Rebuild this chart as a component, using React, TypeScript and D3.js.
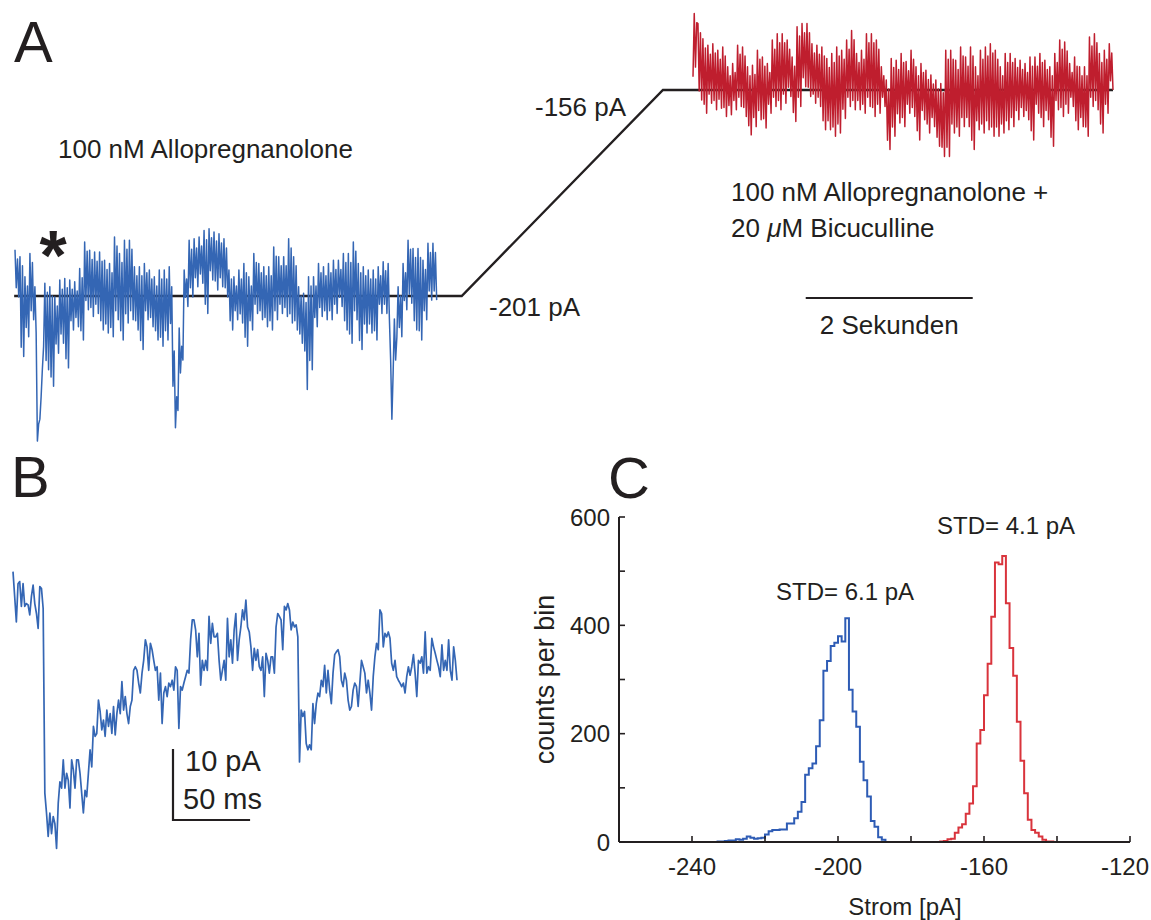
import React from "react";
import * as d3 from "d3";

// ---------- Panel A: current traces (deviation from holding current, pA) ----------
const blueHolding = -201;
const redHolding = -156;
const blueTraceDelta = [
  10.1, 1.8, 8.1, -0.2, 8.6, -11.2, 6.6, -13.2, 4.2, -6.9, 2.2, -8.9, 9.3, -3.2, 7.3, -5.2,
  2.0, -8.0, -31.7, -28.0, -26.9, -22.0, -16.0, -11.0, 2.8, -14.1, 0.8, -16.1, 2.0, -17.7, 0.0, -19.7,
  -0.2, -10.5, -2.2, -12.5, 3.5, -8.3, 1.5, -10.3, 3.8, -13.7, 1.8, -15.7, 3.5, -5.4, 1.5, -7.4,
  3.1, -4.7, 1.1, -6.7, 6.0, -7.6, 4.0, -9.6, 11.8, -1.0, 9.8, -3.0, 10.0, -2.5, 8.0, -4.5,
  9.6, -1.8, 7.6, -3.8, 9.6, -5.4, 7.6, -7.4, 7.8, -6.1, 5.8, -8.1, 7.1, -6.9, 5.1, -8.9,
  12.9, -3.2, 10.9, -5.2, 9.3, -7.6, 7.3, -9.6, 12.2, -3.9, 10.2, -5.9, 12.2, -3.2, 10.2, -5.2,
  6.4, -5.4, 4.4, -7.4, 6.4, -9.7, 4.4, -11.7, 7.1, -3.2, 5.1, -5.2, 5.7, -4.7, 3.7, -6.7,
  4.2, -7.6, 2.2, -9.6, 5.7, -9.0, 3.7, -11.0, 5.7, -7.6, 3.7, -9.6, 6.4, -6.0, 2.0, -19.7,
  -12.0, -28.8, -22.0, -25.0, -7.0, -16.8, -11.0, -14.0, 5.7, -0.3, 3.7, -2.3, 12.2, 1.8, 10.2, -0.2,
  12.5, 4.0, 10.5, 2.0, 12.9, 4.8, 10.9, 2.8, 14.3, -1.8, 12.3, -3.8, 14.7, 5.5, 12.7, 3.5,
  14.0, 3.3, 12.0, 1.3, 13.6, 4.0, 11.6, 2.0, 12.5, 1.8, 10.5, -0.2, 5.7, -5.4, 3.7, -7.4,
  4.2, -3.2, 2.2, -5.2, 5.7, -3.9, 3.7, -5.9, 7.1, -9.0, 5.1, -11.0, 4.2, -5.4, 2.2, -7.4,
  9.3, -1.8, 7.3, -3.8, 7.1, -3.2, 5.1, -5.2, 6.4, -4.7, 4.4, -6.7, 6.4, -5.4, 4.4, -7.4,
  10.7, -3.2, 8.7, -5.2, 8.6, -1.8, 6.6, -3.8, 8.6, -2.5, 6.6, -4.5, 12.5, -3.9, 10.5, -5.9,
  8.6, -5.4, 6.6, -7.4, 2.0, -8.3, 0.0, -10.3, 0.6, -12.0, -1.4, -20.4, 4.2, -14.1, 2.2, -16.1,
  4.2, -4.7, 2.2, -6.7, 7.1, -2.5, 5.1, -4.5, 6.4, -3.2, 4.4, -5.2, 7.1, -3.2, 5.1, -5.2,
  7.8, -1.8, 5.8, -3.8, 7.8, -0.3, 5.8, -2.3, 9.3, -5.4, 7.3, -7.4, 9.3, -8.3, 7.3, -10.3,
  11.8, -3.2, 9.8, -5.2, 7.1, -9.7, 5.1, -11.7, 6.4, -6.1, 4.4, -8.1, 5.7, -6.1, 3.7, -8.1,
  5.7, -7.6, 3.7, -9.6, 6.4, -1.8, 4.4, -3.8, 7.5, -1.8, 5.5, -3.8, 7.1, -5.0, -14.0, -26.9,
  -16.8, -5.0, -14.0, -9.0, 2.0, -6.9, 0.0, -8.9, 7.1, -1.0, 5.1, -3.0, 12.2, 0.4, 10.2, -1.6,
  10.4, -5.4, 8.4, -7.4, 10.4, -7.6, 8.4, -9.6, 7.8, -3.2, 5.8, -5.2, 11.5, 1.1, 9.5, -0.9,
  11.5, 1.1, 9.5, -0.9,
];
const redTraceDelta = [
  2.9, 16.7, 5.0, 14.7, 14.5, -0.2, 12.5, -2.2, 11.2, -3.1, 9.2, -5.1, 9.8, -0.9, 7.8, -2.9,
  10.1, -2.3, 8.1, -4.3, 8.7, -2.0, 6.7, -4.0, 9.4, -3.8, 7.4, -5.8, 5.1, -3.4, 3.1, -5.4,
  5.8, -2.3, 3.8, -4.3, 9.8, -1.6, 7.8, -3.6, 9.4, -3.8, 7.4, -5.8, 5.1, -7.8, 3.1, -9.8,
  5.4, -6.0, 3.4, -8.0, 8.7, -4.5, 6.7, -6.5, 7.2, -6.3, 5.2, -8.3, 5.8, -3.1, 3.8, -5.1,
  10.9, -1.6, 8.9, -3.6, 12.3, -2.3, 10.3, -4.3, 12.3, -0.9, 10.3, -2.9, 10.9, 0.6, 8.9, -1.4,
  7.2, -4.9, 5.2, -6.9, 13.8, -1.6, 11.8, -3.6, 14.5, 2.7, 12.5, 0.7, 14.5, 0.6, 12.5, -1.4,
  10.1, -0.9, 8.1, -2.9, 9.8, -1.6, 7.8, -3.6, 9.4, -6.7, 7.4, -8.7, 6.9, -6.7, 4.9, -8.7,
  8.0, -8.1, 6.0, -10.1, 9.4, -7.4, 7.4, -9.4, 8.7, -4.2, 6.7, -6.2, 10.9, -1.6, 8.9, -3.6,
  13.0, -2.3, 11.0, -4.3, 8.0, -2.3, 6.0, -4.3, 8.7, -3.1, 6.7, -5.1, 12.3, -1.6, 10.3, -3.6,
  12.3, -3.8, 10.3, -5.8, 10.9, -3.1, 8.9, -5.1, 5.1, -1.6, 3.1, -3.6, 2.2, -11.0, 0.2, -13.0,
  6.9, -8.1, 4.9, -10.1, 6.5, -5.2, 4.5, -7.2, 8.0, -6.0, 6.0, -8.0, 6.2, -3.1, 4.2, -5.1,
  8.7, -3.8, 6.7, -5.8, 5.1, -8.9, 3.1, -10.9, 5.8, -4.5, 3.8, -6.5, 4.3, -7.4, 2.3, -9.4,
  3.3, -6.0, 1.3, -8.0, 2.2, -10.3, 0.2, -12.3, 1.4, -12.5, -0.6, -14.5, 8.7, -12.5, 6.7, -14.5,
  8.7, -7.4, 6.7, -9.4, 6.5, -8.1, 4.5, -10.1, 9.4, -6.0, 7.4, -8.0, 7.2, -6.0, 5.2, -8.0,
  9.4, -11.0, 7.4, -13.0, 5.1, -6.7, 3.1, -8.7, 8.7, -7.4, 6.7, -9.4, 9.4, -6.7, 7.4, -8.7,
  10.1, -8.1, 8.1, -10.1, 8.7, -8.1, 6.7, -10.1, 5.1, -7.4, 3.1, -9.4, 8.0, -6.7, 6.0, -8.7,
  8.0, -6.0, 6.0, -8.0, 6.9, -4.5, 4.9, -6.5, 6.5, -3.8, 4.5, -5.8, 5.8, -4.5, 3.8, -6.5,
  7.2, -8.9, 5.2, -10.9, 7.2, -3.1, 5.2, -5.1, 8.0, -6.0, 6.0, -8.0, 6.5, -4.5, 4.5, -6.5,
  5.1, -10.3, 3.1, -12.3, 8.0, -2.3, 6.0, -4.3, 10.9, -3.8, 8.9, -5.8, 10.5, -3.1, 8.5, -5.1,
  5.8, -1.6, 3.8, -3.6, 7.2, -6.7, 5.2, -8.7, 5.1, -6.0, 3.1, -8.0, 5.1, -8.1, 3.1, -10.1,
  11.6, -1.6, 9.6, -3.6, 12.3, -2.3, 10.3, -4.3, 8.0, -7.4, 6.0, -9.4, 8.7, -3.1, 6.7, -5.1,
  10.1, 2.0, 8.1, 0.0,
];
// timeline of panel A (seconds, schematic)
const blueStart = 0, blueEnd = 5.05;
const holdBlueEnd = 5.35;
const holdRedStart = 7.76;
const redStart = 8.12, redEnd = 13.15;
const scaleBarStart = 9.47, scaleBarSeconds = 2;

// ---------- Panel B: single event trace (pA, relative) ----------
const bTrace = [
  4.0, 0.5, -3.1, 2.3, 2.6, -0.9, 2.3, -0.9, -0.5, -0.7, -2.1, 0.5, 2.1, -0.5, -1.9, -4.0,
  1.9, 1.6, -1.2, -27.2, -30.0, -33.3, -30.0, -32.9, -30.5, -31.5, -35.0, -28.6, -25.6, -26.5, -22.5, -26.5,
  -24.4, -25.4, -29.3, -22.5, -23.9, -26.5, -22.5, -22.5, -24.4, -27.2, -30.0, -26.8, -27.7, -24.4, -21.1, -23.5,
  -17.8, -19.2, -18.8, -14.1, -15.7, -18.3, -16.9, -19.2, -15.5, -17.8, -16.0, -18.8, -15.0, -19.0, -16.0, -14.1,
  -16.0, -11.5, -15.5, -13.6, -16.0, -17.4, -15.0, -14.1, -9.9, -9.4, -9.9, -11.7, -13.1, -10.3, -8.5, -5.6,
  -6.6, -9.9, -6.1, -7.0, -8.5, -9.9, -9.4, -14.1, -10.3, -17.4, -13.1, -12.2, -13.6, -11.7, -12.2, -11.3,
  -12.7, -9.4, -9.9, -18.1, -12.2, -12.7, -11.7, -10.8, -9.9, -10.3, -5.6, -2.8, -2.8, -4.2, -8.0, -4.7,
  -12.0, -8.5, -9.9, -8.5, -9.9, -2.3, -6.1, -3.3, -5.2, -5.2, -4.7, -8.5, -11.3, -9.9, -8.5, -11.3,
  -2.6, -8.0, -5.6, -8.9, -4.2, -1.9, -8.5, -5.6, -3.8, -1.4, -2.8, 0.0, -3.8, -4.5, -6.6, -9.9,
  -6.8, -8.5, -7.0, -9.4, -9.9, -8.0, -13.6, -7.5, -8.5, -10.3, -8.0, -8.0, -10.3, -3.8, -1.9, -2.3,
  -2.8, -7.0, -0.9, -1.4, -0.5, -1.4, -4.2, -3.1, -3.8, -3.5, -5.2, -22.8, -15.5, -16.4, -15.7, -20.2,
  -21.1, -20.4, -21.1, -14.6, -17.4, -14.6, -13.1, -13.6, -11.3, -12.2, -9.2, -13.1, -9.9, -12.7, -14.6, -10.3,
  -7.7, -7.3, -7.0, -8.0, -11.3, -12.2, -10.3, -11.3, -14.1, -15.5, -15.0, -12.7, -11.7, -12.2, -15.0, -11.7,
  -8.5, -9.4, -10.3, -13.1, -11.3, -13.1, -15.5, -10.8, -8.0, -6.1, -7.0, -1.4, -1.9, -6.6, -4.7, -5.2,
  -4.5, -5.4, -8.9, -9.9, -8.5, -10.8, -11.3, -11.7, -12.2, -11.7, -13.1, -10.8, -9.4, -10.6, -9.4, -7.7,
  -10.3, -13.6, -8.5, -8.9, -8.0, -10.3, -4.5, -10.3, -9.4, -9.9, -5.4, -6.6, -7.5, -8.5, -9.4, -10.8,
  -6.3, -9.9, -8.5, -9.9, -5.6, -9.9, -11.3, -6.6, -8.5, -11.3,
];
const bScalePA = 10;
const bScaleMs = 50;
const bDurationMs = 288;

// ---------- Panel C: histograms (1 pA bins) ----------
const blueHistFirstBin = -233;
const blueCounts = [
  1, 1, 2, 3, 3, 5, 4, 6, 10, 8, 6, 7, 8, 14, 20, 22, 22, 23, 23, 34, 34, 44, 56, 74,
  124, 136, 145, 177, 225, 316, 334, 362, 368, 380, 370, 413, 281, 241, 213, 148, 114, 84, 39, 28, 9, 4,
];
const redHistFirstBin = -172;
const redCounts = [
  1, 2, 5, 6, 17, 27, 33, 52, 71, 103, 182, 207, 271, 329, 416, 516, 513, 528, 441, 358,
  307, 222, 150, 90, 41, 22, 17, 10, 4, 1, 1,
];
const xTickValues = [-260, -240, -220, -200, -180, -160, -140, -120];
const xTickLabels = [-240, -200, -160, -120];
const yTickValues = [0, 100, 200, 300, 400, 500, 600];
const yTickLabels = [0, 200, 400, 600];
const stdBlue = 6.1;
const stdRed = 4.1;

const FONT = "'Liberation Sans', Arial, Helvetica, sans-serif";
const INK = "#231f20";
const BLUE = "#3466b4";
const RED = "#bf1e2e";
const HBLUE = "#2e5cb5";
const HRED = "#d9343c";

export default function App() {
  // Panel A scales
  const xA = d3.scaleLinear().domain([0, 13.15]).range([15, 1113]);
  const yA = d3.scaleLinear().domain([blueHolding, redHolding]).range([296, 90]);
  const blueStep = (blueEnd - blueStart) / (blueTraceDelta.length - 1);
  const redStep = (redEnd - redStart) / (redTraceDelta.length - 1);
  const lineA = d3.line<[number, number]>().x((d) => xA(d[0])).y((d) => yA(d[1]));
  const bluePts: [number, number][] = blueTraceDelta.map((v, i) => [blueStart + i * blueStep, blueHolding + v]);
  const redPts: [number, number][] = redTraceDelta.map((v, i) => [redStart + i * redStep, redHolding + v]);
  const holdPts: [number, number][] = [
    [blueStart - 0.01, blueHolding],
    [holdBlueEnd, blueHolding],
    [holdRedStart, redHolding],
    [redEnd, redHolding],
  ];

  // Panel B scales
  const xB = d3.scaleLinear().domain([0, bDurationMs]).range([13, 457]);
  const yB = d3.scaleLinear().domain([0, -10]).range([600, 671]);
  const bStep = bDurationMs / (bTrace.length - 1);
  const lineB = d3.line<number>().x((_, i) => xB(i * bStep)).y((d) => yB(d));
  const sbX = 173, sbY = 820;
  const sbW = xB(bScaleMs) - xB(0);
  const sbH = yB(-bScalePA) - yB(0);

  // Panel C scales
  const xC = d3.scaleLinear().domain([-260, -120]).range([619, 1130]);
  const yC = d3.scaleLinear().domain([0, 600]).range([842, 517]);
  const histPath = (first: number, counts: number[]) => {
    const pts: [number, number][] = [[-260, 0]];
    counts.forEach((c, i) => pts.push([first + i, c]));
    pts.push([first + counts.length, 0]);
    pts.push([-120, 0]);
    return d3.line<[number, number]>().x((d) => xC(d[0])).y((d) => yC(d[1])).curve(d3.curveStepAfter)(pts) || "";
  };

  return (
    <svg width={1151} height={920} style={{ position: "absolute", left: 0, top: 0, background: "#fff" }} fontFamily={FONT}>
      {/* ---------- Panel A ---------- */}
      <text x={14} y={62} fontSize={58} fill={INK}>A</text>
      <path d={lineA(holdPts) || ""} fill="none" stroke={INK} strokeWidth={2.4} />
      <path d={lineA(bluePts) || ""} fill="none" stroke={BLUE} strokeWidth={1.5} strokeLinejoin="round" />
      <path d={lineA(redPts) || ""} fill="none" stroke={RED} strokeWidth={1.5} strokeLinejoin="round" />
      <text x={53} y={280} fontSize={70} fontWeight="bold" textAnchor="middle" fill={INK}>*</text>
      <text x={58} y={158} fontSize={26} fill={INK}>100 nM Allopregnanolone</text>
      <text x={489} y={316} fontSize={26} fill={INK}>{`${blueHolding} pA`}</text>
      <text x={535} y={116} fontSize={26} fill={INK}>{`${redHolding} pA`}</text>
      <text x={731} y={201} fontSize={26} fill={INK}>100 nM Allopregnanolone +</text>
      <text x={731} y={237} fontSize={26} fill={INK}>
        20 <tspan fontStyle="italic">μ</tspan>M Bicuculline
      </text>
      <line x1={xA(scaleBarStart)} x2={xA(scaleBarStart + scaleBarSeconds)} y1={298} y2={298} stroke={INK} strokeWidth={2.2} />
      <text x={(xA(scaleBarStart) + xA(scaleBarStart + scaleBarSeconds)) / 2} y={334} fontSize={26} textAnchor="middle" fill={INK}>
        {`${scaleBarSeconds} Sekunden`}
      </text>

      {/* ---------- Panel B ---------- */}
      <text x={11} y={497} fontSize={58} fill={INK}>B</text>
      <path d={lineB(bTrace) || ""} fill="none" stroke={BLUE} strokeWidth={1.7} strokeLinejoin="round" />
      <path d={`M${sbX},${sbY - sbH}V${sbY}H${sbX + sbW}`} fill="none" stroke={INK} strokeWidth={2.2} />
      <text x={185} y={771} fontSize={29} fill={INK}>{`${bScalePA} pA`}</text>
      <text x={183} y={809} fontSize={29} fill={INK}>{`${bScaleMs} ms`}</text>

      {/* ---------- Panel C ---------- */}
      <text x={608} y={498} fontSize={58} fill={INK}>C</text>
      <path d={histPath(blueHistFirstBin, blueCounts)} fill="none" stroke={HBLUE} strokeWidth={2} />
      <path d={histPath(redHistFirstBin, redCounts)} fill="none" stroke={HRED} strokeWidth={2} />
      <line x1={xC(-260)} x2={xC(-120)} y1={yC(0)} y2={yC(0)} stroke={INK} strokeWidth={2} />
      <line x1={xC(-260)} x2={xC(-260)} y1={yC(0)} y2={yC(600)} stroke={INK} strokeWidth={2} />
      {xTickValues.map((v) => (
        <line key={"xt" + v} x1={xC(v)} x2={xC(v)} y1={yC(0)} y2={yC(0) - 6} stroke={INK} strokeWidth={1.6} />
      ))}
      {yTickValues.map((v) => (
        <line key={"yt" + v} x1={xC(-260)} x2={xC(-260) + 6} y1={yC(v)} y2={yC(v)} stroke={INK} strokeWidth={1.6} />
      ))}
      {xTickLabels.map((v) => (
        <text
          key={"xl" + v}
          x={v === -120 ? 1149 : xC(v)}
          y={875}
          fontSize={24}
          textAnchor={v === -120 ? "end" : "middle"}
          fill={INK}
        >
          {v}
        </text>
      ))}
      {yTickLabels.map((v) => (
        <text key={"yl" + v} x={610} y={yC(v) + 8.5} fontSize={24} textAnchor="end" fill={INK}>{v}</text>
      ))}
      <text x={905} y={915} fontSize={24} textAnchor="middle" fill={INK}>Strom [pA]</text>
      <text transform={`translate(554,${yC(300)}) rotate(-90)`} fontSize={27} textAnchor="middle" fill={INK}>counts per bin</text>
      <text x={776} y={600} fontSize={24} fill={INK}>{`STD= ${stdBlue} pA`}</text>
      <text x={937} y={534} fontSize={24} fill={INK}>{`STD= ${stdRed} pA`}</text>
    </svg>
  );
}
